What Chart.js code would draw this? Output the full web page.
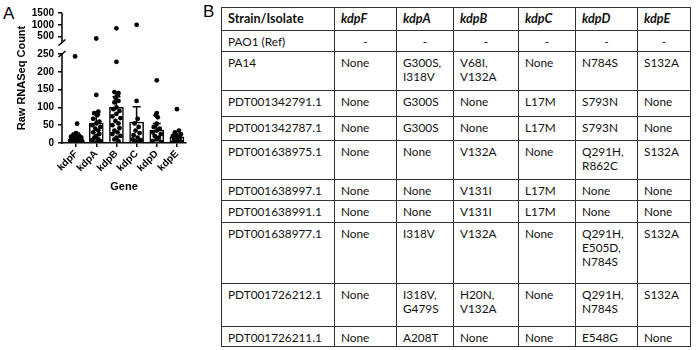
<!DOCTYPE html>
<html>
<head>
<meta charset="utf-8">
<script src="https://cdn.jsdelivr.net/npm/chart.js@4.4.0/dist/chart.umd.min.js"></script>
<style>
  body { margin: 0; background: #fff; }
  #page { position: relative; width: 699px; height: 350px; overflow: hidden; }
  .panel-label { position: absolute; font-family: "Liberation Sans", Arial, sans-serif; font-size: 17px; line-height: 1; color: #000; }
  #chartBox { position: absolute; left: 0; top: 0; width: 195px; height: 198px; }
  #mut { position: absolute; left: 221px; top: 7px; border-collapse: collapse; table-layout: fixed;
         font-family: Lato, "Open Sans", sans-serif; font-size: 11.8px; color: #111; }
  #mut td, #mut th { border: 1px solid #333; padding: 4px 6px 0 6px; vertical-align: top;
                     line-height: 14px; text-align: left; font-weight: normal; white-space: nowrap; }
  #mut th { font-weight: bold; font-size: 12.6px; vertical-align: middle; padding-top: 0; }
  #mut th.gene { font-style: italic; }
  #mut td.dash { text-align: center; }
</style>
</head>
<body>
<div id="page">
  <div class="panel-label" style="left:3px; top:5px;">A</div>
  <div class="panel-label" style="left:203px; top:3px;">B</div>
  <div id="chartBox"><canvas id="rnaseq"></canvas></div>
  <table id="mut"></table>
</div>
<script>
// ---- panel A data ----
const genes = ["kdpF", "kdpA", "kdpB", "kdpC", "kdpD", "kdpE"];
const barMeans = [17, 56, 100, 59, 36, 17];
const errTops = [28, 80, 130, 102, 55, 25];
const yTicks = [0, 50, 100, 150, 200, 250, 500, 1000, 1500];

// dots: [offset from gene centre, count]
const kdpFDots = [[-0.05, 243], [0.05, 54], [0, 28], [-0.15, 22], [0.15, 20], [-0.25, 18], [0.25, 16], [0, 15],
  [-0.1, 12], [0.1, 11], [-0.2, 9], [0.2, 8], [0, 7], [-0.3, 6], [0.3, 5], [-0.1, 4], [0.1, 3], [0, 2], [-0.2, 1], [0.2, 1]];
const kdpADots = [[0, 420], [0, 135], [0.1, 88], [-0.1, 84], [0.05, 78], [-0.15, 68], [0.15, 60], [0, 55], [-0.2, 50],
  [0.2, 45], [-0.05, 40], [0.1, 35], [-0.15, 30], [0.15, 25], [0, 20], [-0.1, 15], [0.1, 10], [-0.2, 8], [0.2, 5], [0, 2]];
const kdpBDots = [[0, 850], [0, 228], [-0.1, 143], [0.1, 140], [0.05, 134], [-0.05, 127], [0.1, 118], [-0.1, 114],
  [0, 100], [-0.15, 95], [0.15, 90], [0, 82], [-0.2, 75], [0.2, 70], [-0.05, 62], [0.1, 55], [-0.2, 50], [0.15, 42],
  [-0.1, 35], [0.05, 30], [-0.2, 25], [0.2, 20], [0, 15], [-0.1, 10], [0.1, 5]];
const kdpCDots = [[0, 1000], [0, 118], [0.05, 68], [-0.1, 55], [0.1, 45], [-0.05, 35], [0.15, 28], [-0.15, 22],
  [0.05, 15], [-0.2, 10], [0.2, 8], [-0.1, 5], [0.1, 3], [0, 1]];
const kdpDDots = [[0, 176], [0, 84], [-0.05, 78], [0.05, 72], [0, 54], [-0.15, 45], [0.15, 40], [0, 35], [-0.2, 30],
  [0.2, 25], [-0.1, 20], [0.1, 15], [0, 10], [-0.2, 6], [0.2, 3]];
const kdpEDots = [[0, 95], [0.1, 35], [-0.1, 30], [0.2, 25], [-0.2, 20], [0, 18], [0.15, 15], [-0.15, 12],
  [0.05, 8], [-0.05, 5], [0.2, 3], [-0.2, 1]];

// ---- panel B data ----
const tableHead = ["Strain/Isolate", "kdpF", "kdpA", "kdpB", "kdpC", "kdpD", "kdpE"];
const strains = ["PAO1 (Ref)", "PA14", "PDT001342791.1", "PDT001342787.1", "PDT001638975.1", "PDT001638997.1",
  "PDT001638991.1", "PDT001638977.1", "PDT001726212.1", "PDT001726211.1"];
const kdpFMut = ["-", "None", "None", "None", "None", "None", "None", "None", "None", "None"];
const kdpAMut = ["-", "G300S, I318V", "G300S", "G300S", "None", "None", "None", "I318V", "I318V, G479S", "A208T"];
const kdpBMut = ["-", "V68I, V132A", "None", "None", "V132A", "V131I", "V131I", "V132A", "H20N, V132A", "None"];
const kdpCMut = ["-", "None", "L17M", "L17M", "None", "L17M", "L17M", "None", "None", "None"];
const kdpDMut = ["-", "N784S", "S793N", "S793N", "Q291H, R862C", "None", "None", "Q291H, E505D, N784S", "Q291H, N784S", "E548G"];
const kdpEMut = ["-", "S132A", "None", "None", "S132A", "None", "None", "S132A", "S132A", "None"];

// ---- broken y axis: 0-250 below, 250-1500 squeezed on top ----
const LOW_MAX = 250, HIGH_MAX = 1500;
const HIGH_END = 0.227, LOW_TOP = 0.315;

class BrokenScale extends Chart.LinearScale {
  getPixelForValue(v) {
    const h = this.bottom - this.top;
    if (v > LOW_MAX) return this.top + (HIGH_MAX - v) / (HIGH_MAX - LOW_MAX) * HIGH_END * h;
    return this.bottom - v / LOW_MAX * (1 - LOW_TOP) * h;
  }
  getValueForPixel(p) {
    const h = this.bottom - this.top;
    const f = (p - this.top) / h;
    if (f < HIGH_END) return HIGH_MAX - f / HIGH_END * (HIGH_MAX - LOW_MAX);
    return (this.bottom - p) / ((1 - LOW_TOP) * h) * LOW_MAX;
  }
}
BrokenScale.id = "broken";
BrokenScale.defaults = Chart.LinearScale.defaults;
Chart.register(BrokenScale);

const brokenAxis = {
  id: "brokenAxis",
  afterDatasetsDraw(chart) {
    const { ctx, scales: { x, y } } = chart;
    ctx.save();
    ctx.strokeStyle = "#000";
    ctx.lineWidth = 1.5;
    errTops.forEach((top, i) => {
      const px = x.getPixelForValue(i);
      const y0 = y.getPixelForValue(barMeans[i]);
      const y1 = y.getPixelForValue(top);
      ctx.beginPath();
      ctx.moveTo(px, y0); ctx.lineTo(px, y1);
      ctx.moveTo(px - 4, y1); ctx.lineTo(px + 4, y1);
      ctx.stroke();
    });
    const ax = y.right;
    const upEnd = y.top + HIGH_END * (y.bottom - y.top);
    const lowTop = y.getPixelForValue(LOW_MAX);
    ctx.beginPath();
    ctx.moveTo(ax, y.top); ctx.lineTo(ax, upEnd);
    ctx.moveTo(ax, y.bottom + 0.75); ctx.lineTo(ax, lowTop);
    ctx.moveTo(ax - 3.5, upEnd + 3); ctx.lineTo(ax + 3.5, upEnd - 3);
    ctx.moveTo(ax - 3.5, lowTop + 3); ctx.lineTo(ax + 3.5, lowTop - 3);
    ctx.stroke();
    ctx.restore();
  }
};

const allDots = [kdpFDots, kdpADots, kdpBDots, kdpCDots, kdpDDots, kdpEDots]
  .flatMap((list, i) => list.map(([off, v]) => ({ x: i + off, y: v })));

Chart.defaults.font.family = "'Liberation Sans', Arial, sans-serif";
Chart.defaults.color = "#000";

new Chart(document.getElementById("rnaseq"), {
  type: "bar",
  data: {
    datasets: [
      {
        type: "bar",
        data: barMeans.map((m, i) => ({ x: i, y: m })),
        backgroundColor: "#fff",
        borderColor: "#000",
        borderWidth: 1.5,
        barThickness: 14,
        order: 2
      },
      {
        type: "scatter",
        data: allDots,
        backgroundColor: "#000",
        borderWidth: 0,
        pointRadius: 2.4,
        order: 1
      }
    ]
  },
  options: {
    responsive: true,
    maintainAspectRatio: false,
    animation: false,
    layout: { padding: { left: 11, top: 13, right: 9, bottom: 0 } },
    plugins: { legend: { display: false }, tooltip: { enabled: false } },
    scales: {
      x: {
        type: "linear",
        min: -0.7,
        max: 5.45,
        offset: false,
        afterBuildTicks: s => { s.ticks = genes.map((g, i) => ({ value: i })); },
        afterFit: s => { s.height = 55; },
        ticks: {
          callback: v => genes[v],
          font: { weight: "bold", size: 10 },
          color: "#000",
          maxRotation: 45,
          minRotation: 45,
          autoSkip: false,
          padding: 1
        },
        grid: { drawOnChartArea: false, offset: false, tickLength: 4, color: "#000", lineWidth: 1.5 },
        border: { color: "#000", width: 1.5 },
        title: { display: true, text: "Gene", font: { weight: "bold", size: 11 }, color: "#000", padding: { top: 4, bottom: 4 } }
      },
      y: {
        type: "broken",
        min: 0,
        max: HIGH_MAX,
        afterBuildTicks: s => { s.ticks = yTicks.map(v => ({ value: v })); },
        afterFit: s => { s.width = 51; },
        ticks: { callback: v => String(v), font: { weight: "bold", size: 10 }, color: "#000", padding: 4 },
        grid: { drawOnChartArea: false, tickLength: 4, color: "#000", lineWidth: 1.5 },
        border: { display: false },
        title: { display: true, text: "Raw RNASeq Count", font: { weight: "bold", size: 11 }, color: "#000", padding: 4 }
      }
    }
  },
  plugins: [brokenAxis]
});

// ---- panel B table ----
const colWidths = [113, 62, 57, 65, 57, 62, 53];
const rowHeights = [23, 21, 39, 26, 24, 39, 21, 22, 61, 43, 20];
const mutCols = [kdpFMut, kdpAMut, kdpBMut, kdpCMut, kdpDMut, kdpEMut];
const table = document.getElementById("mut");
const cg = document.createElement("colgroup");
colWidths.forEach(w => {
  const c = document.createElement("col");
  c.style.width = w + "px";
  cg.appendChild(c);
});
table.appendChild(cg);
const head = document.createElement("tr");
head.style.height = rowHeights[0] + "px";
tableHead.forEach((t, i) => {
  const th = document.createElement("th");
  th.textContent = t;
  if (i > 0) th.className = "gene";
  head.appendChild(th);
});
table.appendChild(head);
strains.forEach((s, r) => {
  const tr = document.createElement("tr");
  tr.style.height = rowHeights[r + 1] + "px";
  const first = document.createElement("td");
  first.textContent = s;
  tr.appendChild(first);
  mutCols.forEach(col => {
    const td = document.createElement("td");
    const val = col[r];
    if (val === "-") td.className = "dash";
    td.innerHTML = val.split(", ").join(",<br>");
    tr.appendChild(td);
  });
  table.appendChild(tr);
});
</script>
</body>
</html>
